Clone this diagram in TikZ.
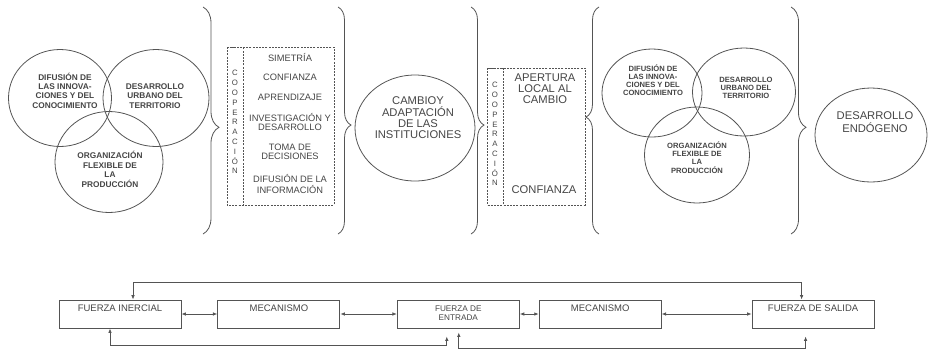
\documentclass[tikz,border=0pt]{standalone}
\usepackage{fontspec}
\setmainfont{Liberation Sans}
\usetikzlibrary{shapes.geometric,arrows.meta,decorations.pathreplacing,positioning}

\newcommand{\lineas}[1]{\begin{tabular}{@{}c@{}}#1\end{tabular}}

\begin{document}
\begin{tikzpicture}[x=1pt,y=-1pt,
  circulo/.style={draw=clinea,line width=0.8pt,shape=ellipse,inner sep=0pt},
  vtexto/.style={text=ctexto,inner sep=0pt,font=\fontsize{8.3}{11}\selectfont\bfseries},
  vtextob/.style={text=ctexto,inner sep=0pt,font=\fontsize{7.6}{9.3}\selectfont\bfseries},
  item/.style={text=ctexto,inner sep=0pt,font=\fontsize{9.3}{10}\selectfont},
  grande/.style={text=ctexto,inner sep=0pt,font=\fontsize{11.2}{12}\selectfont},
  letras/.style={text=ctexto,inner sep=0pt,font=\fontsize{7.8}{11.4}\selectfont},
  punteado/.style={draw=clinea,line width=0.8pt,dash pattern=on 2pt off 1.2pt},
  llave/.style={draw=clinea,line width=0.8pt,decorate,decoration={brace,amplitude=13pt}},
  fuerza/.style={draw=clinea,line width=0.9pt,minimum width=122pt,minimum height=28pt,inner sep=0pt,
    text=ctexto,font=\fontsize{9.5}{10}\selectfont,text height=7pt,text depth=12pt},
  fuerzados/.style={draw=clinea,line width=0.9pt,minimum width=122pt,minimum height=28pt,inner sep=0pt,
    text=ctexto,font=\fontsize{8.2}{10}\selectfont},
  flecha/.style={draw=clinea,line width=0.8pt,{Latex[length=4.5pt,width=3.6pt]}-{Latex[length=4.5pt,width=3.6pt]}}]
%
\useasboundingbox (0,0) rectangle (930,349);
%
\definecolor{clinea}{rgb}{0.33,0.33,0.33}
\definecolor{ctexto}{rgb}{0.27,0.27,0.27}
\renewcommand{\arraystretch}{0.86}
%
% primer grupo de circulos
\node[circulo,minimum width=103pt,minimum height=97pt] (difA) at (60,98) {};
\node[circulo,minimum width=106pt,minimum height=97pt] (urbA) at (156,98) {};
\node[circulo,minimum width=108pt,minimum height=101pt] (orgA) at (109,162) {};
\node[vtexto] (difAt) at (65,92) {\lineas{DIFUSIÓN DE\\LAS INNOVA-\\CIONES Y DEL\\CONOCIMIENTO}};
\node[vtexto] (urbAt) at (155,97) {\lineas{DESARROLLO\\URBANO DEL\\TERRITORIO}};
\node[vtexto] (orgAt) at (110,171) {\lineas{ORGANIZACIÓN\\FLEXIBLE DE\\LA\\PRODUCCIÓN}};
%
\draw[llave,decoration={amplitude=16pt,aspect=0.53}] (203,7) -- (203,234);
%
% cooperacion 1
\draw[punteado] (227,47) rectangle (334,205);
\draw[punteado] (227,47) rectangle (243,205);
\node[letras] (coopA) at (235,123) {\lineas{C\\O\\O\\P\\E\\R\\A\\C\\I\\Ó\\N}};
\node[item] (sim) at (290,58) {SIMETRÍA};
\node[item] (conA) at (290,77) {CONFIANZA};
\node[item] (apr) at (290,97) {APRENDIZAJE};
\node[item] (inv) at (290,123) {\lineas{INVESTIGACIÓN Y\\DESARROLLO}};
\node[item] (tom) at (290,153) {\lineas{TOMA DE\\DECISIONES}};
\node[item] (dif) at (290,185) {\lineas{DIFUSIÓN DE LA\\INFORMACIÓN}};
%
\draw[llave,decoration={aspect=0.52}] (338,7) -- (338,234);
%
\node[circulo,minimum width=120pt,minimum height=106pt] (camb) at (415,128) {};
\node[grande] (cambt) at (418,119) {\lineas{CAMBIOY\\ADAPTACIÓN\\DE LAS\\INSTITUCIONES}};
%
\draw[llave,decoration={aspect=0.52}] (471,7) -- (471,234);
%
% cooperacion 2
\draw[punteado] (487,68) rectangle (585,205);
\draw[punteado] (487,68) rectangle (503,205);
\node[letras] (coopB) at (495,135) {\lineas{C\\O\\O\\P\\E\\R\\A\\C\\I\\Ó\\N}};
\node[grande] (ape) at (545,90) {\lineas{APERTURA\\LOCAL AL\\CAMBIO}};
\node[grande] (conB) at (544,190) {CONFIANZA};
%
\draw[llave,decoration={aspect=0.515}] (599,234) -- (599,7);
%
% segundo grupo de circulos
\node[circulo,minimum width=100pt,minimum height=88pt] (difB) at (652,93) {};
\node[circulo,minimum width=103pt,minimum height=88pt] (urbB) at (744,92) {};
\node[circulo,minimum width=105pt,minimum height=96pt] (orgB) at (697,155) {};
\node[vtextob] (difBt) at (653,81) {\lineas{DIFUSIÓN DE\\LAS INNOVA-\\CIONES Y DEL\\CONOCIMIENTO}};
\node[vtextob] (urbBt) at (746,89) {\lineas{DESARROLLO\\URBANO DEL\\TERRITORIO}};
\node[vtextob] (orgBt) at (697,159) {\lineas{ORGANIZACIÓN\\FLEXIBLE DE\\LA\\PRODUCCIÓN}};
%
\draw[llave,decoration={amplitude=15pt,aspect=0.53}] (791,7) -- (791,234);
%
\node[circulo,minimum width=112pt,minimum height=94pt] (endo) at (871,135) {};
\node[grande] (endot) at (875,124) {\lineas{DESARROLLO\\ENDÓGENO}};
%
% fuerzas
\node[fuerza] (iner) at (120,314) {FUERZA INERCIAL};
\node[fuerza,right=36pt of iner] (mecA) {MECANISMO};
\node[fuerzados,right=56.5pt of mecA] (entr) {\lineas{FUERZA DE\\ENTRADA}};
\node[fuerza,right=19pt of entr] (mecB) {MECANISMO};
\node[fuerza,right=90pt of mecB] (sali) {FUERZA DE SALIDA};
%
\draw[flecha] (iner) -- (mecA);
\draw[flecha] (mecA) -- (entr);
\draw[flecha] (entr) -- (mecB);
\draw[flecha] (mecB) -- (sali);
%
\draw[flecha] ([xshift=13pt]iner.north) -- ++(0,-17) -| ([xshift=-11.5pt]sali.north);
\draw[flecha,shorten >=8pt] ([xshift=-10pt]iner.south) -- ++(0,17) -| ([xshift=-11.5pt]entr.south);
\draw[flecha,shorten <=4pt,shorten >=8pt] ([xshift=0.5pt]entr.south) -- ++(0,20) -| ([xshift=-7.5pt]sali.south);
%
\end{tikzpicture}
\end{document}
